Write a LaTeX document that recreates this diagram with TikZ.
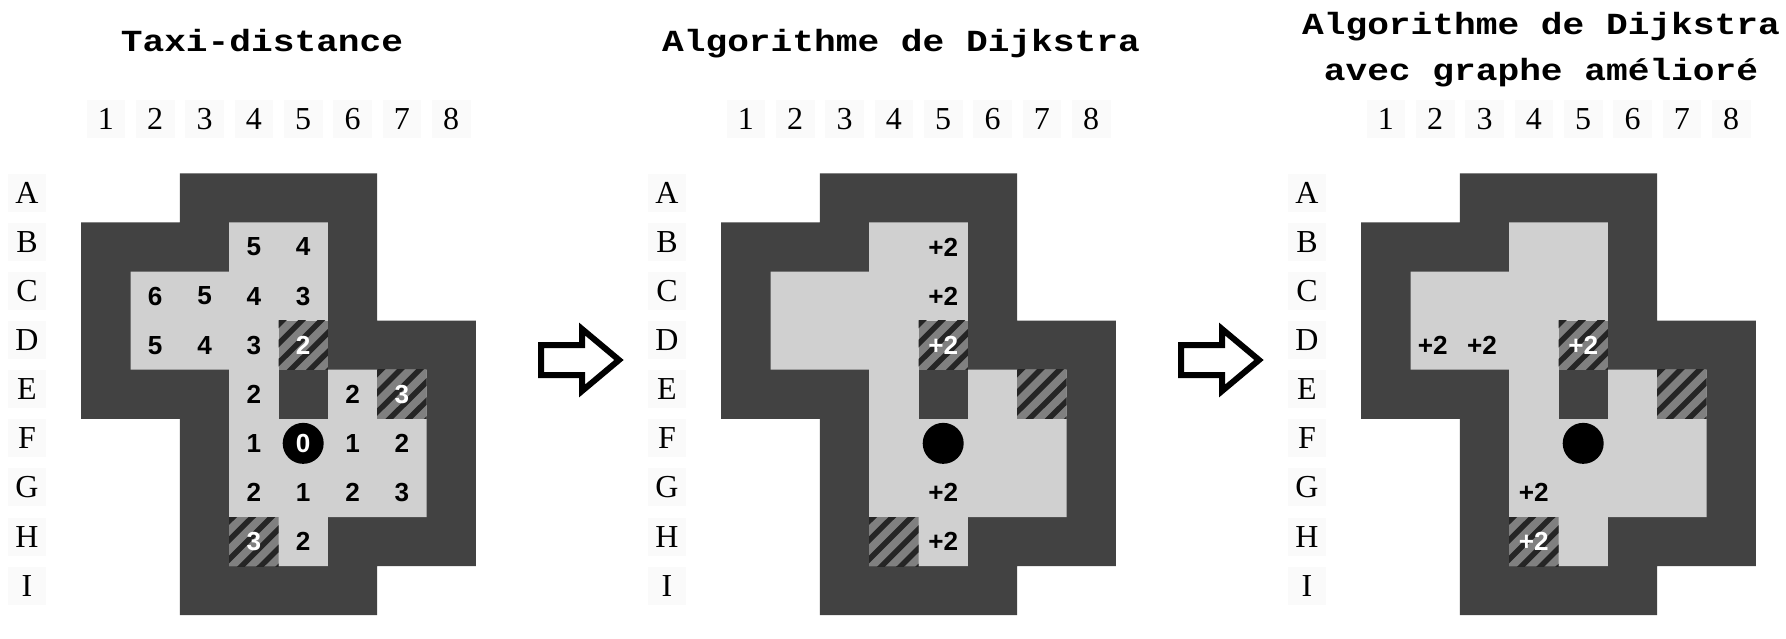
\documentclass[tikz,border=0pt]{standalone}
\usepackage{fontspec}
\setmainfont{Liberation Serif}
\newfontfamily\numfont{Liberation Sans}
\newfontfamily\titlefont[FakeStretch=1.18]{Liberation Mono}
\definecolor{wall}{HTML}{424242}
\definecolor{floorc}{HTML}{D0D0D0}
\definecolor{hatchbg}{HTML}{808080}
\definecolor{hatchln}{HTML}{252525}
\definecolor{lblbg}{HTML}{FAFAFA}
\tikzset{
  lbl/.style={font=\fontsize{24}{28}\selectfont, fill=lblbg, minimum width=29pt, minimum height=28.5pt, inner sep=0pt},
  num/.style={font=\numfont\bfseries\fontsize{19.6}{23}\selectfont, inner sep=0pt},
  wnum/.style={num, text=white},
  ttl/.style={font=\titlefont\bfseries\fontsize{23}{27}\selectfont, anchor=base, inner sep=0pt},
  token/.style={circle, fill=black, minimum size=30.75pt, inner sep=0pt},
  blockarrow/.style={draw=black, fill=white, line width=4.5pt, line join=miter, miter limit=10},
  grid/.style={shift={(#1,173.3)}, x=36.9975pt, y=-36.825pt}
}
\newcommand\hatchcell[2]{%
  \begin{scope}
    \clip (#1,#2) rectangle ++(1,1);
    \fill[hatchbg] (#1,#2) rectangle ++(1,1);
    \foreach \c in {0.08,0.47,0.86,1.25,1.64,2.03}
      \draw[hatchln, line width=4.1pt] ({#1+\c+0.3},{#2-0.3}) -- ({#1+\c-1.3},{#2+1.3});
  \end{scope}}
\newcommand\drawbase[1]{%
  \fill[wall] (2,0) -| (6,3) -| (8,8) -| (6,9) -| (2,5) -| (0,1) -| (2,0) -- cycle;
  \fill[floorc] (3,1) -| (5,4) -| (7,7) -| (5,8) -| (3,4) -| (1,2) -| (3,1) -- cycle;
  \fill[wall] (4,4) rectangle (5,5);
  \hatchcell{4}{3}
  \hatchcell{6}{4}
  \hatchcell{3}{7}
  \foreach \n in {1,...,8}
    \node[lbl] (#1col\n) at (\n-0.5,-1.106) {\n};
  \foreach \L [count=\r] in {A,B,C,D,E,F,G,H,I}
    \node[lbl] (#1row\L) at (-1.099,\r-0.602) {\L};
}
\begin{document}
\begin{tikzpicture}[x=0.75pt, y=-0.75pt]
\path[use as bounding box, fill=white] (0,0) rectangle (1786,639);

% titles
\node[ttl] (title1) at (262,51) {Taxi-distance};
\node[ttl] (title2) at (901,51) {Algorithme de Dijkstra};
\node[ttl] (title3a) at (1541,34) {Algorithme de Dijkstra};
\node[ttl] (title3b) at (1541,80) {avec graphe amélioré};

% panel 1
\begin{scope}[grid=81.2]
  \drawbase{p1}
  \node[num] (p1B4) at (3.5,1.5) {5};
  \node[num] (p1B5) at (4.5,1.5) {4};
  \node[num] (p1C2) at (1.5,2.5) {6};
  \node[num] (p1C3) at (2.5,2.5) {5};
  \node[num] (p1C4) at (3.5,2.5) {4};
  \node[num] (p1C5) at (4.5,2.5) {3};
  \node[num] (p1D2) at (1.5,3.5) {5};
  \node[num] (p1D3) at (2.5,3.5) {4};
  \node[num] (p1D4) at (3.5,3.5) {3};
  \node[wnum] (p1D5) at (4.5,3.5) {2};
  \node[num] (p1E4) at (3.5,4.5) {2};
  \node[num] (p1E6) at (5.5,4.5) {2};
  \node[wnum] (p1E7) at (6.5,4.5) {3};
  \node[num] (p1F4) at (3.5,5.5) {1};
  \node[token, text=white, font=\numfont\bfseries\fontsize{19.6}{23}\selectfont] (p1F5) at (4.5,5.5) {0};
  \node[num] (p1F6) at (5.5,5.5) {1};
  \node[num] (p1F7) at (6.5,5.5) {2};
  \node[num] (p1G4) at (3.5,6.5) {2};
  \node[num] (p1G5) at (4.5,6.5) {1};
  \node[num] (p1G6) at (5.5,6.5) {2};
  \node[num] (p1G7) at (6.5,6.5) {3};
  \node[wnum] (p1H4) at (3.5,7.5) {3};
  \node[num] (p1H5) at (4.5,7.5) {2};
\end{scope}

% panel 2
\begin{scope}[grid=721.2]
  \drawbase{p2}
  \node[num] (p2B5) at (4.5,1.5) {+2};
  \node[num] (p2C5) at (4.5,2.5) {+2};
  \node[wnum] (p2D5) at (4.5,3.5) {+2};
  \node[token] (p2F5) at (4.5,5.5) {};
  \node[num] (p2G5) at (4.5,6.5) {+2};
  \node[num] (p2H5) at (4.5,7.5) {+2};
\end{scope}

% panel 3
\begin{scope}[grid=1361.2]
  \drawbase{p3}
  \node[num] (p3D2) at (1.45,3.5) {+2};
  \node[num] (p3D3) at (2.45,3.5) {+2};
  \node[wnum] (p3D5) at (4.5,3.5) {+2};
  \node[token] (p3F5) at (4.5,5.5) {};
  \node[num] (p3G4) at (3.5,6.5) {+2};
  \node[wnum] (p3H4) at (3.5,7.5) {+2};
\end{scope}

% block arrows
\draw[blockarrow] (541,345) -- (582,345) -- (582,329) -- (619,360) -- (582,391) -- (582,375) -- (541,375) -- cycle;
\draw[blockarrow] (1181,345) -- (1222,345) -- (1222,329) -- (1259,360) -- (1222,391) -- (1222,375) -- (1181,375) -- cycle;
\end{tikzpicture}
\end{document}
